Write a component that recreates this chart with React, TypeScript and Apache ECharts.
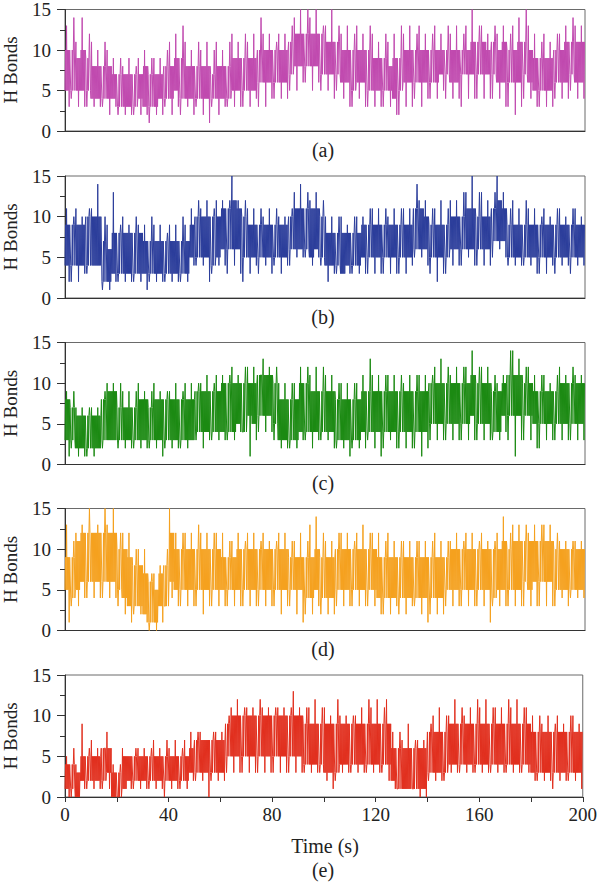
import React, { useEffect, useRef } from "react";
import * as echarts from "echarts";

// Hydrogen-bond counts over a 200 s trajectory, summarised in 2 s bins.
// For every bin: lowest dip, lower edge of the dense band, upper edge of the band, highest peak.
const BIN_SECONDS = 2;
const TIME_MAX = 200;
const HB_MAX = 15;

const aHi = [13,14,11,14,12,11,10,11,10,9, 9,8,9,8,9,10,9,9,9,10, 11,12,13,11,10,11,10,11,10,11, 10,11,12,11,12,11,12,14,12,12, 11,12,12,13,14,15,15,14,15,13, 13,15,13,12,13,12,13,12,13,12, 11,12,11,12,13,12,13,12,13,12, 12,13,12,13,12,13,12,13,15,13, 13,12,13,12,13,12,13,14,15,13, 12,11,12,11,12,12,13,14,13,13];
const aBandHi = [10,10,9,10,9,8,8,8,8,7, 7,7,7,7,7,8,7,7,7,8, 8,9,9,8,8,8,8,8,7,8, 8,8,9,9,9,9,9,10,10,10, 10,10,10,11,12,12,12,12,12,12, 11,11,11,10,10,10,10,10,10,9, 9,9,8,9,9,10,10,10,10,10, 10,10,10,10,10,10,10,10,11,11, 11,10,11,10,11,10,10,11,11,10, 9,9,9,9,10,10,11,11,11,11];
const aBandLo = [5,5,5,5,5,4,4,4,4,4, 3,3,3,3,4,3,3,3,4,4, 4,5,4,4,4,4,4,4,4,4, 4,4,5,5,5,5,5,6,6,6, 6,6,6,7,8,8,8,8,8,7, 7,7,7,6,6,5,6,6,5,5, 5,5,5,4,5,6,6,6,6,6, 6,6,7,7,6,6,7,7,7,7, 7,7,7,6,6,6,6,6,7,6, 5,5,5,5,6,6,6,7,6,6];
const aLo = [3,4,3,3,3,3,3,3,2,3, 2,2,2,2,2,2,1,2,2,3, 2,3,2,3,2,3,2,1,3,2, 3,3,3,3,3,3,4,3,3,4, 4,4,4,5,5,6,6,5,6,5, 5,4,5,4,3,3,4,3,3,3, 3,3,3,2,2,3,3,4,3,4, 4,4,5,4,4,4,3,4,4,4, 4,4,4,4,3,3,2,3,4,4, 3,3,3,3,4,4,4,5,4,4];

const bHi = [11,10,11,10,11,11,14,10,9,13, 9,10,9,10,9,9,10,9,9,8, 9,9,10,9,11,12,11,12,11,12, 12,12,15,12,12,11,11,11,10,11, 11,10,10,11,13,14,13,12,13,12, 10,10,10,10,9,10,10,10,11,11, 11,11,10,11,11,11,11,14,12,12, 11,11,12,11,12,12,13,13,15,13, 13,12,13,15,13,11,12,11,12,11, 11,10,11,10,11,11,10,11,11,10];
const bBandHi = [9,9,9,9,10,10,10,7,6,8, 8,8,8,8,8,7,7,7,7,7, 7,7,7,7,9,10,10,10,10,10, 11,11,12,11,10,9,9,9,9,9, 9,9,9,10,11,11,11,11,11,10, 8,8,8,8,8,8,8,9,9,9, 9,9,9,9,9,9,9,11,11,10, 9,9,9,9,10,10,10,11,11,10, 10,10,11,12,11,9,9,9,9,9, 9,9,9,9,9,9,9,9,9,9];
const bBandLo = [4,4,4,4,4,4,4,2,2,3, 3,3,3,3,3,3,3,3,3,3, 3,3,3,3,5,5,5,5,4,5, 6,6,6,6,5,5,5,5,5,5, 5,5,5,6,6,6,6,5,6,5, 4,4,4,3,4,4,4,5,5,5, 5,5,5,5,5,5,5,6,6,6, 5,5,5,5,6,6,6,6,6,6, 6,6,7,7,7,5,5,5,5,5, 5,5,5,5,5,5,5,5,5,5];
const bLo = [2,2,2,3,3,4,4,1,1,2, 2,2,2,2,2,1,2,2,2,2, 2,2,2,2,4,4,4,2,3,4, 4,3,4,3,2,3,4,3,4,3, 4,3,4,4,5,5,5,4,5,4, 2,3,3,3,3,3,3,3,3,3, 3,3,3,3,3,3,4,5,5,4, 3,2,3,3,4,4,4,5,4,4, 4,4,5,6,5,4,4,4,4,4, 3,3,3,4,3,4,4,3,4,4];

const cHi = [9,9,7,7,7,7,7,9,10,10, 10,9,9,9,10,9,9,10,9,9, 9,10,9,10,10,10,10,11,10,11, 11,11,12,11,12,12,12,11,13,12, 12,10,10,10,10,12,12,11,12,12, 11,11,10,10,10,10,10,11,13,11, 11,11,11,11,11,10,11,11,11,11, 11,12,13,12,11,12,12,12,14,12, 12,12,11,10,11,14,14,13,12,12, 11,11,11,10,11,12,11,12,11,11];
const cBandHi = [8,7,6,6,6,6,6,8,9,9, 7,7,7,7,8,8,7,8,8,8, 8,8,8,8,8,9,9,9,9,9, 10,10,10,10,10,10,10,11,11,11, 10,8,8,8,8,10,10,9,9,9, 9,9,8,8,8,8,8,9,9,9, 9,9,9,9,9,9,9,9,9,9, 10,10,10,10,10,10,10,10,11,10, 10,10,9,9,10,11,11,11,10,10, 9,9,9,9,9,10,10,10,10,10];
const cBandLo = [3,3,2,2,2,2,2,3,3,3, 3,3,3,3,3,3,3,3,3,3, 3,3,3,3,3,4,4,4,4,4, 4,4,4,5,4,6,5,6,6,6, 5,3,3,3,3,4,4,4,4,4, 4,4,3,3,3,3,3,4,4,4, 4,4,4,4,4,4,4,4,4,4, 5,5,5,5,5,5,5,5,6,5, 5,5,4,4,6,6,6,6,6,6, 5,5,5,5,5,5,5,5,5,5];
const cLo = [1,2,1,1,1,1,2,2,3,3, 2,2,2,2,2,2,2,2,1,2, 2,2,2,2,3,3,2,3,3,3, 3,3,3,4,4,1,3,4,4,4, 3,2,2,2,2,3,3,2,3,3, 3,2,2,2,1,2,2,2,3,2, 1,2,3,2,2,2,2,2,1,2, 3,3,3,3,3,3,3,3,3,3, 3,3,3,3,4,3,1,3,3,3, 2,2,3,3,3,3,3,3,3,3];

const dHi = [13,11,12,13,15,12,13,15,13,15, 12,12,12,10,10,10,7,7,8,10, 15,12,12,12,12,13,12,12,12,12, 12,11,11,12,11,12,12,11,12,11, 11,12,12,11,11,12,11,13,14,12, 11,11,12,12,12,11,12,13,12,12, 12,11,12,11,11,11,11,11,11,11, 11,12,11,11,11,12,11,12,12,11, 12,11,11,12,14,12,13,13,13,12, 13,13,13,13,12,11,11,11,11,11];
const dBandHi = [9,9,11,12,12,12,12,12,12,12, 10,10,9,8,8,7,6,5,7,8, 12,10,10,10,10,10,10,10,10,10, 9,9,9,10,10,10,10,10,10,10, 10,10,10,9,9,9,9,9,10,9, 9,9,10,10,10,10,10,10,10,10, 9,9,9,9,9,9,9,9,9,9, 9,9,9,9,10,10,10,10,10,10, 10,10,10,10,11,10,11,11,11,11, 11,11,11,11,10,10,10,10,10,10];
const dBandLo = [5,4,5,6,6,6,6,6,6,6, 5,4,3,3,3,2,1,1,3,3, 6,5,5,5,5,5,5,5,5,5, 5,5,5,5,5,5,5,5,5,5, 5,5,5,5,5,5,4,4,5,4, 4,4,5,5,5,5,5,5,5,5, 4,4,4,4,4,4,4,4,4,4, 4,4,4,5,5,5,5,5,5,5, 5,5,4,5,5,5,5,5,6,5, 6,6,6,6,5,5,5,5,5,5];
const dLo = [1,3,3,4,4,4,4,4,4,4, 3,2,1,2,2,1,0,0,1,3, 4,3,3,3,3,3,2,3,3,3, 3,3,3,3,3,3,3,3,3,3, 3,2,3,3,2,1,2,2,3,2, 2,2,3,3,3,3,3,3,3,3, 2,2,2,3,2,2,3,3,2,1, 2,2,2,3,3,3,3,3,3,3, 3,1,3,3,3,3,3,3,3,3, 3,3,3,3,3,4,3,4,4,4];

const eHi = [5,6,4,9,6,7,6,6,8,4, 4,6,5,6,6,6,6,7,6,7, 6,7,6,7,8,8,8,7,8,8, 8,10,11,12,11,11,11,12,11,11, 11,11,11,11,13,11,11,11,12,11, 11,10,12,10,10,10,10,11,12,11, 12,11,12,8,8,7,9,7,7,7, 9,10,11,10,10,12,11,10,11,12, 11,12,11,11,11,12,11,12,11,11, 10,10,9,10,9,10,9,10,10,9];
const eBandHi = [4,4,3,5,5,5,5,6,6,3, 3,5,5,5,5,5,5,5,5,5, 5,5,5,5,6,7,7,7,7,7, 7,9,10,10,10,10,10,10,10,10, 10,10,10,10,10,10,9,9,9,9, 9,9,9,9,9,9,9,9,9,9, 9,9,9,6,6,6,6,6,6,6, 8,8,8,8,9,9,9,9,9,9, 9,9,9,9,9,9,9,9,9,9, 8,8,8,8,8,8,8,8,8,8];
const eBandLo = [1,1,0,2,2,2,2,2,3,0, 0,1,2,2,2,2,2,2,2,2, 2,2,2,2,3,3,3,3,3,3, 3,5,5,5,5,5,5,5,5,5, 5,5,5,5,5,5,4,4,4,4, 3,3,3,4,4,4,4,4,4,4, 4,4,4,2,1,1,1,1,1,1, 3,3,3,3,4,4,4,4,4,4, 4,4,4,4,4,4,4,4,4,4, 3,3,3,3,3,3,3,3,3,3];
const eLo = [0,0,0,1,1,1,1,1,1,0, 0,1,1,1,1,1,1,1,1,0, 1,1,1,1,2,2,2,0,2,2, 2,3,3,3,3,3,3,3,3,3, 3,3,3,3,3,3,3,3,3,3, 2,1,2,3,3,3,3,3,3,3, 3,3,2,1,1,1,1,1,0,0, 2,2,2,2,3,3,3,3,3,3, 3,3,3,3,3,3,3,3,3,3, 2,2,2,2,1,2,2,2,2,1];

const PANEL_LABELS = ["(a)", "(b)", "(c)", "(d)", "(e)"];
const PANEL_COLORS = ["#c04aaf", "#2c3e9b", "#1b8a12", "#f5a11e", "#e1301f"];
const PANEL_BINS = [
  [aLo, aBandLo, aBandHi, aHi],
  [bLo, bBandLo, bBandHi, bHi],
  [cLo, cBandLo, cBandHi, cHi],
  [dLo, dBandLo, dBandHi, dHi],
  [eLo, eBandLo, eBandHi, eHi],
];

const FONT = "'Liberation Serif', 'Times New Roman', serif";
const PANEL_TOPS = [9, 176, 342.5, 508.5, 675];
const PANEL_HEIGHT = 122;
const PLOT_LEFT = 65;
const PLOT_RIGHT = 15;

// Trace each bin as a fast back-and-forth trace: dense swings across the band,
// one excursion up to the bin's peak and one down to its dip, at shifting positions.
function traceBins(lo: number[], bandLo: number[], bandHi: number[], hi: number[]) {
  const pts: number[][] = [];
  const per = 10;
  const step = BIN_SECONDS / per;
  for (let i = 0; i < hi.length; i++) {
    const t0 = i * BIN_SECONDS;
    const L = bandLo[i];
    const H = bandHi[i];
    const P = hi[i];
    const D = lo[i];
    const orders = [
      [L, H, L, P, L, H, L, H, D, H],
      [H, L, D, L, H, L, H, P, H, L],
      [L, P, L, H, L, H, D, H, L, H],
    ];
    orders[i % 3].forEach((v, k) => pts.push([t0 + k * step, v]));
  }
  return pts;
}

export default function App() {
  const ref = useRef<HTMLDivElement>(null);

  useEffect(() => {
    if (!ref.current) return;
    const chart = echarts.init(ref.current, undefined, { renderer: "svg" });
    const last = PANEL_TOPS.length - 1;
    const plotCenterX = PLOT_LEFT + (600 - PLOT_LEFT - PLOT_RIGHT) / 2;

    const grid = PANEL_TOPS.map((top) => ({
      left: PLOT_LEFT,
      right: PLOT_RIGHT,
      top,
      height: PANEL_HEIGHT,
      show: true,
      borderColor: "#6a6a6a",
      borderWidth: 1,
      backgroundColor: "transparent",
    }));

    const xAxis = PANEL_TOPS.map((_, i) => ({
      type: "value",
      gridIndex: i,
      min: 0,
      max: TIME_MAX,
      interval: 40,
      axisLine: { show: true, onZero: false, lineStyle: { color: "#333", width: 1 } },
      axisTick: { show: i === last, length: 5, lineStyle: { color: "#333" } },
      minorTick: { show: i === last, splitNumber: 2, length: 5, lineStyle: { color: "#333" } },
      axisLabel: { show: i === last, fontFamily: FONT, fontSize: 19, color: "#222", margin: 8 },
      splitLine: { show: false },
      minorSplitLine: { show: false },
    }));

    const yAxis = PANEL_TOPS.map((_, i) => ({
      type: "value",
      gridIndex: i,
      min: 0,
      max: HB_MAX,
      interval: 5,
      axisLine: { show: true, lineStyle: { color: "#333", width: 1 } },
      axisTick: { show: true, length: 8, lineStyle: { color: "#333" } },
      minorTick: { show: true, splitNumber: 2, length: 5, lineStyle: { color: "#333" } },
      axisLabel: { fontFamily: FONT, fontSize: 19, color: "#222", margin: 14 },
      splitLine: { show: false },
      minorSplitLine: { show: false },
    }));

    const series = PANEL_BINS.map(([lo, bandLo, bandHi, hi], i) => ({
      type: "line",
      xAxisIndex: i,
      yAxisIndex: i,
      data: traceBins(lo, bandLo, bandHi, hi),
      symbol: "none",
      showSymbol: false,
      silent: true,
      clip: true,
      lineStyle: { color: PANEL_COLORS[i], width: 1 },
    }));

    const graphic: any[] = [];
    PANEL_TOPS.forEach((top, i) => {
      graphic.push({
        type: "text",
        x: 10,
        y: top + PANEL_HEIGHT / 2,
        rotation: Math.PI / 2,
        style: {
          text: "H Bonds",
          font: `19px ${FONT}`,
          fill: "#222",
          textAlign: "center",
          textVerticalAlign: "middle",
        },
      });
      graphic.push({
        type: "text",
        x: plotCenterX - 2,
        y: i === last ? 870 : top + PANEL_HEIGHT + 18.5,
        style: {
          text: PANEL_LABELS[i],
          font: `20px ${FONT}`,
          fill: "#222",
          textAlign: "center",
          textVerticalAlign: "middle",
        },
      });
    });
    graphic.push({
      type: "text",
      x: plotCenterX,
      y: 846,
      style: {
        text: "Time (s)",
        font: `20px ${FONT}`,
        fill: "#222",
        textAlign: "center",
        textVerticalAlign: "middle",
      },
    });

    chart.setOption({
      animation: false,
      backgroundColor: "#ffffff",
      grid,
      xAxis,
      yAxis,
      series,
      graphic,
    });

    return () => chart.dispose();
  }, []);

  return (
    <div
      ref={ref}
      style={{ position: "absolute", left: 0, top: 0, width: 600, height: 885 }}
    />
  );
}
